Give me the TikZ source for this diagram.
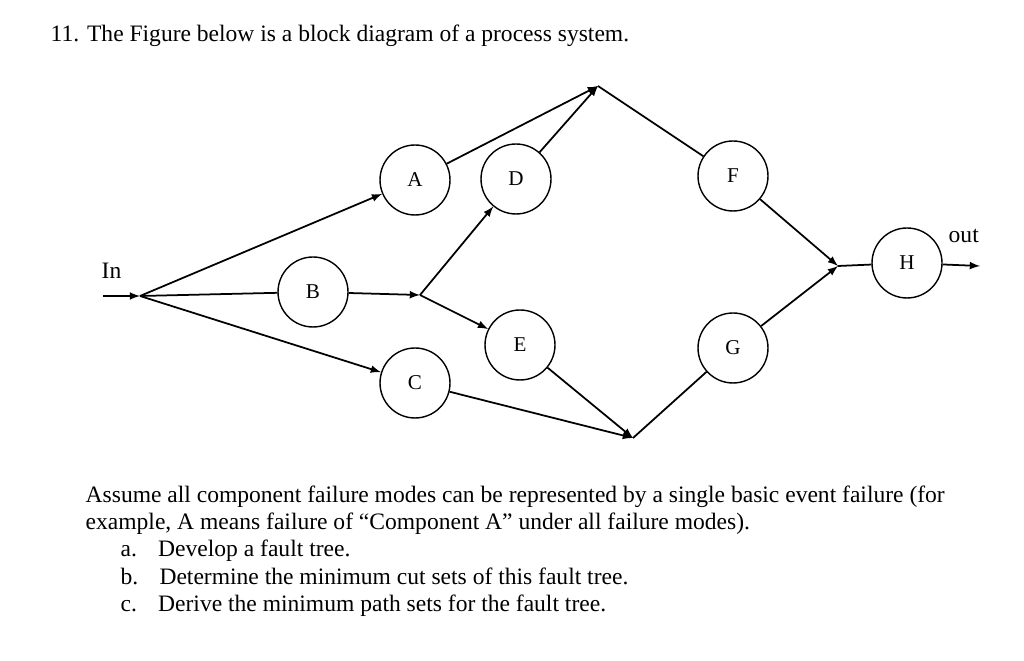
\documentclass[tikz,border=0pt]{standalone}
\usepackage{fontspec}
\setmainfont{Liberation Serif}
\usetikzlibrary{arrows}
\begin{document}
\begin{tikzpicture}[x=0.02cm,y=-0.02cm,thick]
    \tikzstyle{block}=[draw,circle,minimum size=1.4cm,inner sep=0pt,font=\fontsize{12}{14}\selectfont]
    \tikzstyle{flow}=[-latex,line width=1pt]
    \tikzstyle{link}=[line width=1pt]
    \tikzstyle{txt}=[anchor=base west,inner sep=0pt,font=\fontsize{13.4}{16}\selectfont]
    \useasboundingbox (0,0) rectangle (1024,661);
    % blocks
    \foreach \place/\name in {{(415,180)/A},{(313,292)/B},{(415,383)/C},{(516,179)/D},{(520,345)/E},{(733,176)/F},{(733,348)/G},{(907,263)/H}}
        \node[block] (\name) at \place {\name};
    % junctions
    \coordinate (src) at (103,296);
    \coordinate (ja) at (140,296);
    \coordinate (jb) at (420,295);
    \coordinate (jc) at (598,86);
    \coordinate (jd) at (838,266);
    \coordinate (je) at (633,438);
    \coordinate (snk) at (980,266);
    \node[txt] (lblIn) at (101,279) {In};
    \node[txt] (lblOut) at (948,243) {out};
    % connectors
    \draw[flow] (src) -- (ja);
    \draw[flow] (ja) -- (A);
    \draw[link] (ja) -- (B);
    \draw[flow] (ja) -- (C);
    \draw[flow] (B) -- (jb);
    \draw[flow] (jb) -- (D);
    \draw[flow] (jb) -- (E);
    \draw[flow] (A) -- (jc);
    \draw[flow] (D) -- (jc);
    \draw[link] (jc) -- (F);
    \draw[flow] (F) -- (jd);
    \draw[flow] (G) -- (jd);
    \draw[flow] (C) -- (je);
    \draw[flow] (E) -- (je);
    \draw[link] (je) -- (G);
    \draw[link] (jd) -- (H);
    \draw[flow] (H) -- (snk);
    % text
    \node[txt] (title) at (50,42) {11. The Figure below is a block diagram of a process system.};
    \node[txt] (lineA) at (85,503) {Assume all component failure modes can be represented by a single basic event failure (for};
    \node[txt] (lineB) at (85,530) {example, A means failure of \char"201C Component A\char"201D\ under all failure modes).};
    \node[txt] (itemA) at (120,557) {a.\hspace{0.9em}Develop a fault tree.};
    \node[txt] (itemB) at (120,584) {b.\hspace{0.9em}Determine the minimum cut sets of this fault tree.};
    \node[txt] (itemC) at (120,612) {c.\hspace{0.9em}Derive the minimum path sets for the fault tree.};
\end{tikzpicture}
\end{document}
